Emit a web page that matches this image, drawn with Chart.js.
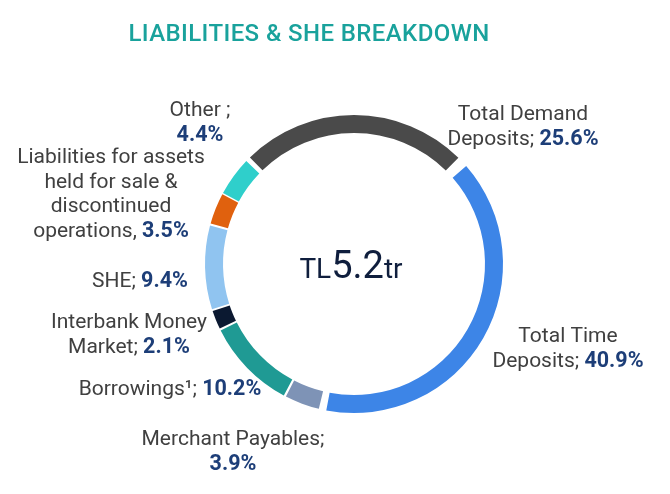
<!DOCTYPE html>
<html>
<head>
<meta charset="utf-8">
<script src="https://cdn.jsdelivr.net/npm/chart.js@4.4.1/dist/chart.umd.min.js"></script>
<style>
  html, body { margin: 0; padding: 0; background: #ffffff; }
  #wrap { width: 670px; height: 494px; position: relative; }
</style>
</head>
<body>
<div id="wrap"><canvas id="c" width="670" height="494"></canvas></div>
<script>
// ---- data ----
const categories = ['Total Demand Deposits', 'Total Time Deposits', 'Merchant Payables', 'Borrowings¹',
  'Interbank Money Market', 'SHE', 'Liabilities for assets held for sale & discontinued operations', 'Other'];
const shares = [25.6, 40.9, 3.9, 10.2, 2.1, 9.4, 3.5, 4.4];
const sliceColors = ['#4a4a4a', '#3d85e7', '#7e93b6', '#1f9a94', '#0b1931', '#90c4f0', '#e0610e', '#2fcfcb'];
// label text lines (value is appended to the last line)
const labelLines = [
  ['Total Demand', 'Deposits; '],
  ['Total Time', 'Deposits; '],
  ['Merchant Payables;', ''],
  ['Borrowings¹; '],
  ['Interbank Money', 'Market; '],
  ['SHE; '],
  ['Liabilities for assets', 'held for sale &', 'discontinued', 'operations, '],
  ['Other ;', '']
];
const titleText = 'LIABILITIES & SHE BREAKDOWN';
const totalPrefix = 'TL', totalValue = '5.2', totalSuffix = 'tr';

// ---- label layout (centre x, first-line y) ----
const labelPos = [
  [523, 115], [568, 337], [233, 440], [170, 390], [129, 323], [140, 282], [111, 158], [200, 111]
];
const LINE_H = 24.5;

const textPlugin = {
  id: 'texts',
  afterDraw(chart) {
    const ctx = chart.ctx;
    ctx.save();
    ctx.textBaseline = 'middle';
    // title
    ctx.font = '500 24px Roboto';
    ctx.letterSpacing = '0.4px';
    ctx.fillStyle = '#19a29c';
    ctx.textAlign = 'center';
    ctx.fillText(titleText, 309, 35);
    ctx.letterSpacing = '0px';

    const regFont = '400 21px Roboto';
    const boldFont = '700 21.5px Roboto';
    ctx.textAlign = 'left';
    labelLines.forEach((lines, i) => {
      const [cx, y0] = labelPos[i];
      lines.forEach((ln, j) => {
        const isLast = j === lines.length - 1;
        const val = isLast ? shares[i].toFixed(1) + '%' : '';
        ctx.font = regFont;
        const w1 = ctx.measureText(ln).width;
        ctx.font = boldFont;
        const w2 = val ? ctx.measureText(val).width : 0;
        const x = cx - (w1 + w2) / 2;
        const y = y0 + j * LINE_H;
        ctx.font = regFont;
        ctx.fillStyle = '#404040';
        ctx.fillText(ln, x, y);
        if (val) {
          ctx.font = boldFont;
          ctx.fillStyle = '#1d3e78';
          ctx.fillText(val, x + w1, y);
        }
      });
    });

    // centre total
    const area = chart.chartArea;
    const ccx = (area.left + area.right) / 2 - 3;
    const base = 278;
    ctx.textBaseline = 'alphabetic';
    ctx.fillStyle = '#0f1e3d';
    const f1 = '400 28px Roboto', f2 = '400 38px Roboto', f3 = '400 28px Roboto';
    ctx.font = f1; const a = ctx.measureText(totalPrefix).width;
    ctx.font = f2; const b = ctx.measureText(totalValue).width;
    ctx.font = f3; const c = ctx.measureText(totalSuffix).width;
    let x = ccx - (a + b + c) / 2;
    ctx.font = f1; ctx.fillText(totalPrefix, x, base); x += a;
    ctx.font = f2; ctx.fillText(totalValue, x, base); x += b;
    ctx.font = f3; ctx.fillText(totalSuffix, x, base);
    ctx.restore();
  }
};

new Chart(document.getElementById('c'), {
  type: 'doughnut',
  data: {
    labels: categories,
    datasets: [{
      data: shares,
      backgroundColor: sliceColors,
      borderWidth: 0,
      spacing: 10
    }]
  },
  options: {
    responsive: false,
    animation: false,
    rotation: -46,
    cutout: '87.5%',
    radius: 144,
    layout: { padding: { left: 200, right: 162, top: 110, bottom: 76 } },
    plugins: { legend: { display: false }, tooltip: { enabled: false }, title: { display: false } }
  },
  plugins: [textPlugin]
});
</script>
</body>
</html>
